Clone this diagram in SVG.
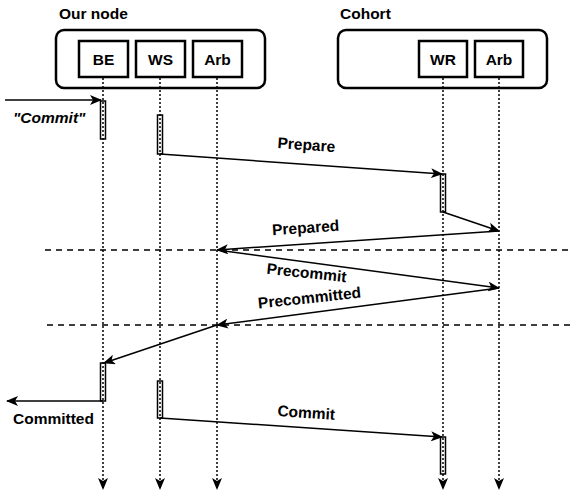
<svg xmlns="http://www.w3.org/2000/svg" width="571" height="493" viewBox="0 0 571 493">
<defs>
<style>
.t{font-family:"Liberation Sans",Arial,sans-serif;font-weight:bold;font-size:15.5px;fill:#000}
.grp{fill:#fff;stroke:#000;stroke-width:2.5}
.box{fill:#fff;stroke:#000;stroke-width:2.5}
.life{stroke:#000;stroke-width:1.5;stroke-dasharray:2,2;fill:none}
.sep{stroke:#000;stroke-width:1.5;stroke-dasharray:6,5;fill:none}
.msg{stroke:#000;stroke-width:1.5;fill:none}
.act{fill:none;stroke:#000;stroke-width:1.5}
</style>
<marker id="ah" viewBox="0 0 12 10" refX="11" refY="5" markerWidth="12" markerHeight="10" markerUnits="userSpaceOnUse" orient="auto">
<path d="M0,0 L12,5 L0,10 L3,5 Z" fill="#000"/>
</marker>
</defs>
<g id="our-node">
<rect class="grp" x="56" y="30" width="209" height="58" rx="8"/>
<text class="t" x="59" y="19">Our node</text>
</g>
<g id="cohort">
<rect class="grp" x="338" y="30" width="209" height="58" rx="8"/>
<text class="t" x="340" y="19">Cohort</text>
</g>
<g id="BE"><rect class="box" x="79" y="41" width="49" height="36"/><text class="t" x="103.5" y="64.5" text-anchor="middle">BE</text></g>
<g id="WS"><rect class="box" x="136" y="41" width="49" height="36"/><text class="t" x="160.5" y="64.5" text-anchor="middle">WS</text></g>
<g id="Arb1"><rect class="box" x="193" y="41" width="49" height="36"/><text class="t" x="217.5" y="64.5" text-anchor="middle">Arb</text></g>
<g id="WR"><rect class="box" x="419" y="41" width="48" height="36"/><text class="t" x="443" y="64.5" text-anchor="middle">WR</text></g>
<g id="Arb2"><rect class="box" x="475" y="41" width="48" height="36"/><text class="t" x="499" y="64.5" text-anchor="middle">Arb</text></g>
<g id="connectors">
<line class="life" x1="103" y1="78" x2="103" y2="489" marker-end="url(#ah)"/>
<line class="life" x1="160" y1="78" x2="160" y2="489" marker-end="url(#ah)"/>
<line class="life" x1="217" y1="78" x2="217" y2="489" marker-end="url(#ah)"/>
<line class="life" x1="443" y1="78" x2="443" y2="489" marker-end="url(#ah)"/>
<line class="life" x1="499" y1="78" x2="499" y2="489" marker-end="url(#ah)"/>
<line class="sep" x1="45" y1="250" x2="571" y2="250"/>
<line class="sep" x1="47" y1="325" x2="571" y2="325"/>
<rect class="act" x="100.5" y="101" width="5" height="38"/>
<rect class="act" x="157.5" y="115" width="5" height="39"/>
<rect class="act" x="440.5" y="174" width="5" height="38"/>
<rect class="act" x="100.5" y="363" width="5" height="38"/>
<rect class="act" x="157.5" y="381" width="5" height="37"/>
<rect class="act" x="440.5" y="437" width="5" height="37"/>
<line class="msg" x1="5" y1="100" x2="101" y2="100" marker-end="url(#ah)"/>
<line class="msg" x1="160" y1="154" x2="442" y2="174" marker-end="url(#ah)"/>
<line class="msg" x1="443" y1="212" x2="499" y2="231" marker-end="url(#ah)"/>
<line class="msg" x1="499" y1="231" x2="217" y2="250" marker-end="url(#ah)"/>
<line class="msg" x1="217" y1="250" x2="499" y2="288" marker-end="url(#ah)"/>
<line class="msg" x1="499" y1="288" x2="217" y2="325" marker-end="url(#ah)"/>
<line class="msg" x1="217" y1="325" x2="104" y2="363" marker-end="url(#ah)"/>
<line class="msg" x1="103" y1="401" x2="7" y2="401" marker-end="url(#ah)"/>
<line class="msg" x1="160" y1="418" x2="442" y2="437" marker-end="url(#ah)"/>
</g>
<g id="labels">
<text class="t" x="13" y="123" font-style="italic">"Commit"</text>
<text class="t" x="306" y="150" text-anchor="middle" transform="rotate(4 306 150)">Prepare</text>
<text class="t" x="306" y="233" text-anchor="middle" transform="rotate(-4 306 233)">Prepared</text>
<text class="t" x="306" y="278" text-anchor="middle" transform="rotate(6 306 278)">Precommit</text>
<text class="t" x="310" y="303" text-anchor="middle" transform="rotate(-6 310 303)">Precommitted</text>
<text class="t" x="13" y="424">Committed</text>
<text class="t" x="306" y="418" text-anchor="middle" transform="rotate(3.8 306 418)">Commit</text>
</g>
</svg>
